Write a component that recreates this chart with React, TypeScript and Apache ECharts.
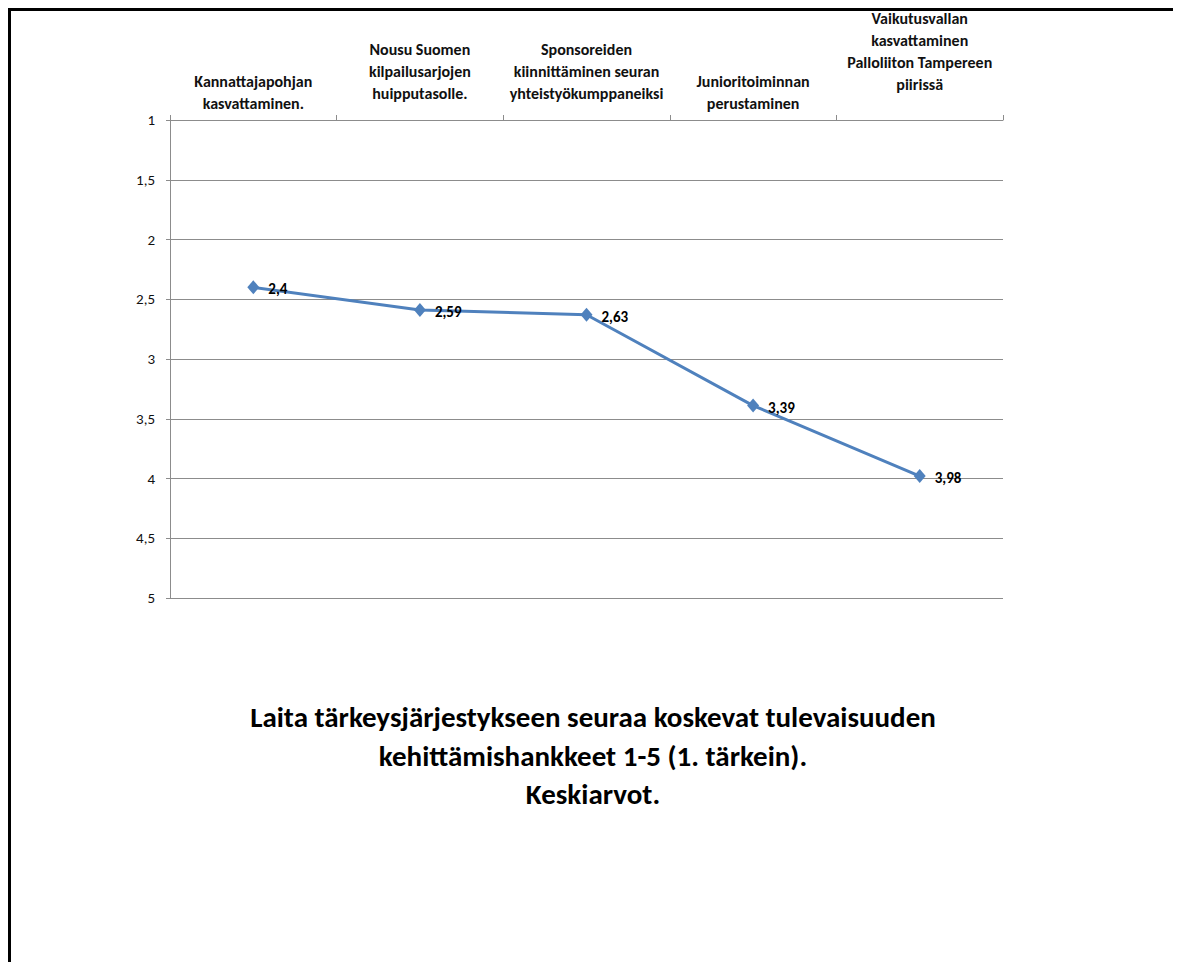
import React, { useEffect, useRef } from "react";
import * as echarts from "echarts";

// Development projects (category axis, shown along the top)
const projectLines: string[][] = [
  ["Kannattajapohjan", "kasvattaminen."],
  ["Nousu Suomen", "kilpailusarjojen", "huipputasolle."],
  ["Sponsoreiden", "kiinnittäminen seuran", "yhteistyökumppaneiksi"],
  ["Junioritoiminnan", "perustaminen"],
  ["Vaikutusvallan", "kasvattaminen", "Palloliiton Tampereen", "piirissä"],
];

// Mean ranking per project (1 = most important)
const meanRanks: number[] = [2.4, 2.59, 2.63, 3.39, 3.98];

// Rank scale
const rankMin = 1;
const rankMax = 5;
const rankStep = 0.5;

const titleLines: string[] = [
  "Laita tärkeysjärjestykseen seuraa koskevat tulevaisuuden",
  "kehittämishankkeet 1-5 (1. tärkein).",
  "Keskiarvot.",
];

const FONT = 'Carlito, Lato, "Liberation Sans", sans-serif';
const LABEL_LINE = 22;
const fmt = (v: number) => String(v).replace(".", ",");

export default function App() {
  const ref = useRef<HTMLDivElement>(null);

  useEffect(() => {
    document.documentElement.style.overflow = "hidden";
    if (!ref.current) return;
    const chart = echarts.init(ref.current, null, { renderer: "svg" });
    // Longer labels sit higher for every line beyond two
    const categories = projectLines.map((lines) => ({
      value: lines.join("\n"),
      textStyle: {
        padding: [0, 0, Math.max(0, lines.length - 2) * 9.5, 0],
      },
    }));
    chart.setOption({
      animation: false,
      backgroundColor: "transparent",
      title: {
        text: titleLines.join("\n"),
        left: "center",
        top: 693,
        textStyle: {
          fontFamily: FONT,
          fontSize: 29,
          fontWeight: "bold",
          lineHeight: 38.5,
          color: "#000000",
        },
      },
      grid: {
        left: 159,
        top: 120,
        width: 833,
        height: 478,
        outerBoundsMode: "none",
        containLabel: false,
      },
      xAxis: {
        type: "category",
        position: "top",
        data: categories,
        boundaryGap: true,
        axisLine: { show: true, lineStyle: { color: "#8c8c8c", width: 1 } },
        axisTick: { show: true, length: 5, lineStyle: { color: "#8c8c8c" } },
        axisLabel: {
          interval: 0,
          margin: 6,
          fontFamily: FONT,
          fontSize: 16,
          fontWeight: "bold",
          lineHeight: LABEL_LINE,
          color: "#111111",
          align: "center",
        },
        splitLine: { show: false },
      },
      yAxis: {
        type: "value",
        inverse: true,
        min: rankMin,
        max: rankMax,
        interval: rankStep,
        axisLine: { show: true, lineStyle: { color: "#8c8c8c", width: 1 } },
        axisTick: { show: true, length: 4, lineStyle: { color: "#8c8c8c" } },
        axisLabel: {
          margin: 15,
          fontFamily: FONT,
          fontSize: 15,
          color: "#111111",
          formatter: (v: number) => fmt(v),
        },
        splitLine: { show: true, lineStyle: { color: "#8c8c8c", width: 1 } },
      },
      series: [
        {
          type: "line",
          data: meanRanks,
          symbol: "diamond",
          symbolSize: [12, 14],
          itemStyle: { color: "#4F81BD" },
          lineStyle: { color: "#4F81BD", width: 3 },
          label: {
            show: true,
            position: "right",
            distance: 9,
            offset: [0, 2],
            fontFamily: FONT,
            fontSize: 15,
            fontWeight: "bold",
            color: "#000000",
            formatter: (p: any) => fmt(p.value),
          },
        },
      ],
    });
    return () => chart.dispose();
  }, []);

  return (
    <div
      style={{
        position: "relative",
        width: 1164,
        height: 960,
        border: "3px solid #000000",
        borderBottom: "none",
        background: "#ffffff",
      }}
    >
      <div
        ref={ref}
        style={{ position: "absolute", left: 0, top: -11, width: 1164, height: 962 }}
      />
    </div>
  );
}
